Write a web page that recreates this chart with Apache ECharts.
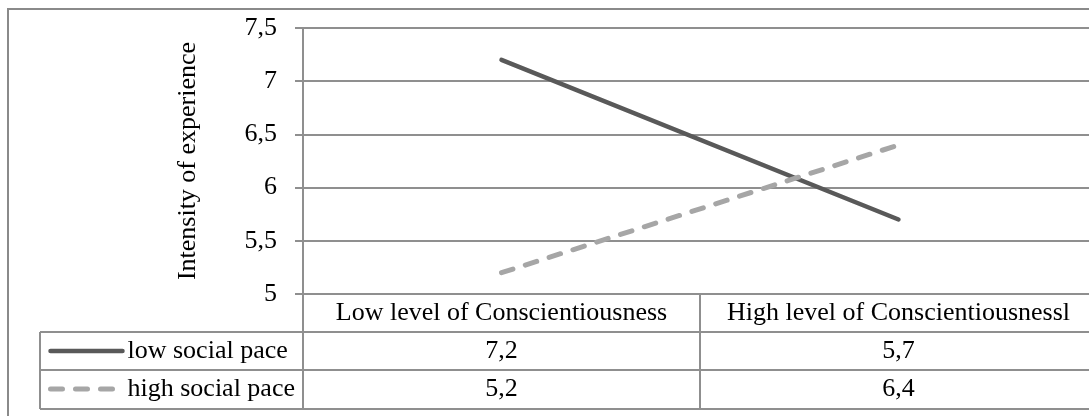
<!DOCTYPE html>
<html>
<head>
<meta charset="utf-8">
<script src="https://cdn.jsdelivr.net/npm/echarts@6/dist/echarts.min.js"></script>
<style>
html,body{margin:0;padding:0;background:#fff;}
#main{width:1089px;height:416px;}
</style>
</head>
<body>
<div id="main"></div>
<script>
// data
var categories = ['Low level of Conscientiousness', 'High level of Conscientiousnessl'];
var seriesNames = ['low social pace', 'high social pace'];
var lowPace = [7.2, 5.7];
var highPace = [5.2, 6.4];
var yTicks = {min: 5, max: 7.5, interval: 0.5};
var yTitle = 'Intensity of experience';

var FONT = "'Liberation Serif','Times New Roman',serif";
var GRID_COL = '#8f8f8f';
var ROW_H = 38;
var gridTop = 28, gridBottomY = 294, gridLeft = 303;
var LOW_STYLE = {color: '#595959', width: 4.5, type: 'solid', cap: 'round'};
var HIGH_STYLE = {color: '#a6a6a6', width: 5, type: [12, 13], cap: 'round'};

function comma(v){ return String(v).replace('.', ','); }

var mychart = echarts.init(document.getElementById('main'));

// extra category axes are the rows of the data table
function rowAxis(vals, k){
	return {
		type: 'category', gridIndex: 0, position: 'bottom', offset: ROW_H * k,
		data: categories,
		axisLine: {show: false}, axisTick: {show: false}, splitLine: {show: false},
		axisLabel: {
			interval: 0, margin: 6, color: '#000', fontFamily: FONT, fontSize: 26,
			formatter: function(v, i){ return comma(vals[i]); }
		}
	};
}

var tableRight = 1100, tableLeft = 40;
var graphics = [
	{type: 'rect', silent: true, shape: {x: 8, y: 9, width: 1100, height: 420},
	 style: {fill: 'none', stroke: '#8a8a8a', lineWidth: 2}},
	{type: 'line', silent: true, shape: {x1: tableLeft, y1: gridBottomY + ROW_H, x2: tableRight, y2: gridBottomY + ROW_H},
	 style: {stroke: GRID_COL, lineWidth: 2}},
	{type: 'line', silent: true, shape: {x1: tableLeft, y1: gridBottomY + ROW_H * 2, x2: tableRight, y2: gridBottomY + ROW_H * 2},
	 style: {stroke: GRID_COL, lineWidth: 2}},
	{type: 'line', silent: true, shape: {x1: tableLeft, y1: gridBottomY + ROW_H * 3 + 1, x2: tableRight, y2: gridBottomY + ROW_H * 3 + 1},
	 style: {stroke: GRID_COL, lineWidth: 2}},
	{type: 'line', silent: true, shape: {x1: tableLeft, y1: gridBottomY + ROW_H, x2: tableLeft, y2: gridBottomY + ROW_H * 3 + 1},
	 style: {stroke: GRID_COL, lineWidth: 2}}
];

var option = {
	backgroundColor: '#fff',
	animation: false,
	textStyle: {fontFamily: FONT},
	grid: {left: gridLeft, top: gridTop, right: -8, bottom: 416 - gridBottomY, outerBoundsMode: 'none'},
	legend: {
		orient: 'vertical', left: 48, top: gridBottomY + ROW_H + 6, padding: 0,
		itemWidth: 72, itemHeight: 26, itemGap: 12,
		itemStyle: {opacity: 0},
		textStyle: {color: '#000', fontFamily: FONT, fontSize: 26, padding: [0, 0, 0, 0]},
		data: [
			{name: seriesNames[0], itemStyle: {opacity: 0}, lineStyle: LOW_STYLE},
			{name: seriesNames[1], itemStyle: {opacity: 0}, lineStyle: HIGH_STYLE}
		]
	},
	xAxis: [
		{
			type: 'category', data: categories, position: 'bottom',
			axisLine: {show: true, lineStyle: {color: GRID_COL, width: 2}},
			axisTick: {show: true, interval: 0, length: ROW_H * 3 + 1, lineStyle: {color: GRID_COL, width: 2}},
			splitLine: {show: false},
			axisLabel: {interval: 0, margin: 6, color: '#000', fontFamily: FONT, fontSize: 26}
		},
		rowAxis(lowPace, 1),
		rowAxis(highPace, 2)
	],
	yAxis: {
		type: 'value', min: yTicks.min, max: yTicks.max, interval: yTicks.interval,
		name: yTitle, nameLocation: 'middle', nameRotate: 90, nameGap: 102,
		nameTextStyle: {color: '#000', fontFamily: FONT, fontSize: 26},
		axisLine: {show: true, lineStyle: {color: GRID_COL, width: 2}},
		axisTick: {show: true, length: 8, lineStyle: {color: GRID_COL, width: 2}},
		splitLine: {show: true, lineStyle: {color: GRID_COL, width: 2}},
		axisLabel: {margin: 26, color: '#000', fontFamily: FONT, fontSize: 26, formatter: comma}
	},
	series: [
		{
			name: seriesNames[0], type: 'line', data: lowPace, symbol: 'none',
			color: LOW_STYLE.color, lineStyle: LOW_STYLE
		},
		{
			name: seriesNames[1], type: 'line', data: highPace, symbol: 'none',
			color: HIGH_STYLE.color, lineStyle: HIGH_STYLE
		}
	],
	graphic: graphics
};
mychart.setOption(option);
</script>
</body>
</html>
